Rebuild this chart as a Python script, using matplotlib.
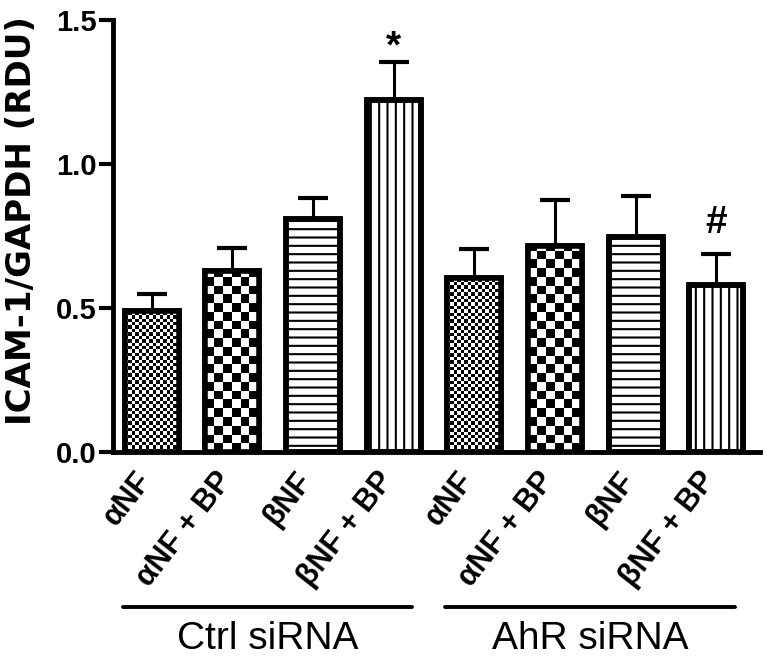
"""ICAM-1/GAPDH bar chart, Ctrl vs AhR siRNA."""

import numpy as np
import matplotlib

matplotlib.use("Agg")
import matplotlib.pyplot as plt
from matplotlib.transforms import ScaledTranslation, blended_transform_factory

# data
treatments = ["αNF", "αNF + BP", "βNF", "βNF + BP", "αNF", "αNF + BP", "βNF", "βNF + BP"]
icam = [0.49, 0.628, 0.81, 1.222, 0.604, 0.715, 0.746, 0.58]
sem = [0.057, 0.08, 0.072, 0.132, 0.10, 0.16, 0.144, 0.107]
marks = ["", "", "", "*", "", "", "", "#"]
groups = ["Ctrl siRNA", "AhR siRNA"]
group_size = 4
yticks = [0.0, 0.5, 1.0, 1.5]

# styles
fills = ["fine", "coarse", "--", "||"] * 2
cell_px = {"fine": 3.4, "coarse": 8.75}
mark_pad = [0, 0, 0, 3, 0, 0, 0, 15]  # points above the cap

plt.rcParams["font.family"] = ["Liberation Sans", "DejaVu Sans"]
plt.rcParams["hatch.linewidth"] = 1.5

fig = plt.figure(figsize=(7.67, 6.59), dpi=100)
ax = fig.add_axes([0.1473, 0.3141, 0.8436, 0.6555])
x = np.arange(len(icam))
W = 0.67
ax.set_xlim(-0.48, 7.54)
ax.set_ylim(0, 1.5)

for xi, h, f in zip(x, icam, fills):
    hatch = f if f in ("--", "||") else None
    base = ax.bar(xi, h, W, color="white", edgecolor="black", linewidth=4,
                  hatch=hatch, zorder=1)[0]
    if hatch is None:
        # checkerboard fill, clipped to the bar
        c = cell_px[f]
        (x0, y0), (x1, y1) = ax.transData.transform([[xi - W / 2, 0], [xi + W / 2, h]])
        nx = int(np.ceil((x1 - x0) / c))
        ny = int(np.ceil((y1 - y0) / c))
        board = np.indices((ny, nx)).sum(axis=0) % 2
        ex1, ey1 = ax.transData.inverted().transform([x0 + nx * c, y0 + ny * c])
        im = ax.imshow(board, cmap="gray_r", extent=[xi - W / 2, ex1, 0, ey1],
                       origin="lower", aspect="auto", interpolation="nearest", zorder=2)
        im.set_clip_path(base)
    ax.bar(xi, h, W, fill=False, edgecolor="black", linewidth=4, zorder=3)

ax.set_xlim(-0.48, 7.54)
ax.set_ylim(0, 1.5)

ax.errorbar(x, icam, yerr=[np.zeros(len(sem)), sem], fmt="none", ecolor="black",
            elinewidth=2.2, capsize=11, capthick=3, zorder=2.5)

for xi, h, e, m, p in zip(x, icam, sem, marks, mark_pad):
    if m:
        ax.annotate(m, (xi, h + e), xytext=(0, p), textcoords="offset points",
                    ha="center", va="baseline", fontsize=28, fontweight="bold")

for side in ("top", "right"):
    ax.spines[side].set_visible(False)
for side in ("left", "bottom"):
    ax.spines[side].set_linewidth(3.5)

ax.set_yticks(yticks)
ax.set_yticklabels([f"{v:.1f}" for v in yticks], fontsize=21, fontweight="bold")
ax.tick_params(axis="y", length=10, width=3, pad=2)

ax.set_xticks(x)
ax.set_xticklabels(treatments, rotation=52, ha="right", va="top",
                   rotation_mode="anchor", fontsize=22, fontweight="bold")
ax.tick_params(axis="x", length=0, pad=0)
shift = ScaledTranslation(-0.18, -0.14, fig.dpi_scale_trans)
for lbl in ax.get_xticklabels():
    lbl.set_transform(lbl.get_transform() + shift)

ax.text(-0.142, 0.535, "ICAM-1/GAPDH (RDU)", transform=ax.transAxes, rotation=90,
        ha="center", va="center", fontsize=24.5, fontweight="bold",
        family="DejaVu Sans")

trans = blended_transform_factory(ax.transData, ax.transAxes)
for g, name in enumerate(groups):
    start = g * group_size
    ax.plot([start - 0.36, start + group_size - 0.77], [-0.359, -0.359], transform=trans,
            color="black", lw=2.8, clip_on=False, solid_capstyle="round")
    ax.text(start + (group_size - 1.13) / 2, -0.433, name, transform=trans,
            ha="center", va="center", fontsize=28)

fig.savefig("out.png", dpi=100)
plt.close(fig)
